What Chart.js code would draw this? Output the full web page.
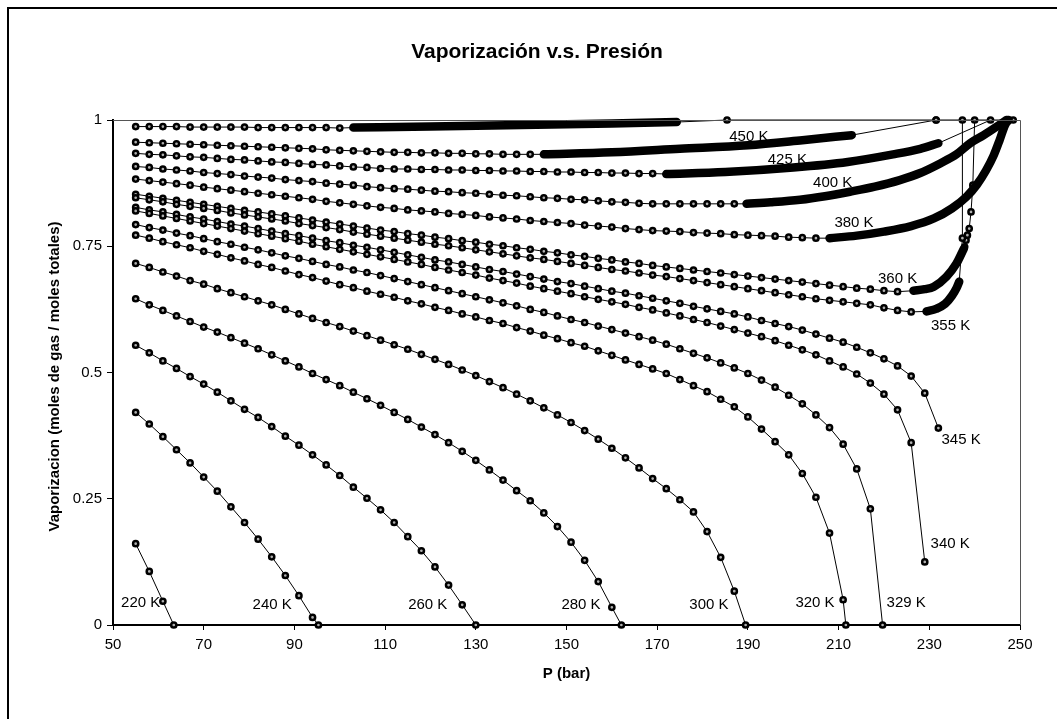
<!DOCTYPE html>
<html>
<head>
<meta charset="utf-8">
<script src="https://cdn.jsdelivr.net/npm/chart.js@4.4.1/dist/chart.umd.min.js"></script>
<style>
html,body{margin:0;padding:0;background:#fff}
#wrap{width:1057px;height:719px}
</style>
</head>
<body>
<div id="wrap"><canvas id="chart" width="1057" height="719"></canvas></div>
<script>
// presion de cada punto calculado (bar)
const presion = [55,58,61,64,67,70,73,76,79,82,85,88,91,94,97,100,103,106,109,112,115,118,121,124,127,130,133,136,139,142,145,148,151,154,157,160,163,166,169,172,175,178,181,184,187,190,193,196,199,202,205,208,211,214,217,220,223,226,229,232];

// fraccion vaporizada por isoterma, un valor por presion
const v220 = [0.161,0.106,0.047];
const v240 = [0.421,0.398,0.373,0.347,0.321,0.293,0.265,0.234,0.203,0.170,0.135,0.098,0.058,0.015];
const v260 = [0.554,0.539,0.523,0.508,0.492,0.477,0.461,0.444,0.427,0.411,0.393,0.374,0.356,0.337,0.317,0.296,0.273,0.251,0.228,0.203,0.175,0.147,0.115,0.079,0.040];
const v280 = [0.646,0.634,0.623,0.612,0.601,0.590,0.580,0.569,0.558,0.547,0.535,0.523,0.511,0.498,0.486,0.474,0.461,0.448,0.435,
  0.421,0.407,0.392,0.377,0.361,0.344,0.326,0.307,0.287,0.266,0.246,0.222,0.195,0.164,0.128,0.086,0.035];
const v300 = [0.716,0.708,0.699,0.691,0.682,0.675,0.666,0.658,0.650,0.642,0.634,0.625,0.616,0.607,0.599,0.591,0.582,0.573,0.564,
  0.555,0.546,0.536,0.526,0.516,0.505,0.494,0.482,0.470,0.457,0.444,0.430,0.416,0.401,0.385,0.368,0.350,0.331,0.311,0.290,0.270,0.248,0.224,0.185,0.134,0.067];
const v320 = [0.772,0.766,0.759,0.753,0.747,0.740,0.734,0.727,0.721,0.714,0.708,0.701,0.694,0.688,0.681,0.674,0.668,0.661,0.655,
  0.649,0.642,0.636,0.629,0.623,0.616,0.610,0.603,0.597,0.589,0.582,0.574,0.567,0.559,0.552,0.543,0.534,0.525,0.516,0.507,0.498,0.486,0.474,0.462,0.447,0.432,0.412,
  0.388,0.363,0.337,0.300,0.253,0.182,0.050];
const v329 = [0.793,0.787,0.782,0.776,0.771,0.765,0.759,0.754,0.748,0.743,0.737,0.731,0.726,0.720,0.714,0.709,0.703,0.698,0.692,
  0.686,0.680,0.674,0.668,0.662,0.656,0.650,0.644,0.638,0.632,0.625,0.619,0.612,0.605,0.599,0.592,0.585,0.578,0.571,0.564,
  0.556,0.547,0.538,0.529,0.519,0.509,0.498,0.485,0.471,0.455,0.438,0.416,0.391,0.358,0.309,0.230];
const v340 = [0.820,0.815,0.810,0.805,0.800,0.795,0.790,0.785,0.780,0.775,0.770,0.765,0.760,0.754,0.749,0.744,0.739,0.734,0.729,
  0.724,0.719,0.714,0.708,0.703,0.698,0.693,0.687,0.682,0.677,0.671,0.666,0.661,0.656,0.650,0.645,0.640,0.635,0.629,0.624,
  0.618,0.612,0.605,0.599,0.592,0.585,0.578,0.571,0.563,0.554,0.545,0.535,0.523,0.511,0.497,0.479,0.457,0.426,0.361,0.125];
const v345 = [0.827,0.822,0.818,0.813,0.808,0.804,0.799,0.794,0.790,0.785,0.780,0.775,0.771,0.766,0.761,0.757,0.752,0.748,0.743,
  0.738,0.733,0.728,0.723,0.719,0.714,0.709,0.704,0.700,0.695,0.690,0.685,0.680,0.676,0.671,0.666,0.661,0.657,0.652,0.647,
  0.642,0.637,0.631,0.626,0.621,0.616,0.610,0.603,0.597,0.591,0.584,0.576,0.568,0.560,0.550,0.539,0.527,0.513,0.493,0.459,0.390];
const v355 = [0.846,0.842,0.838,0.833,0.829,0.825,0.821,0.816,0.812,0.808,0.804,0.800,0.795,0.791,0.787,0.783,0.778,0.774,0.770,
  0.766,0.762,0.758,0.754,0.751,0.747,0.743,0.739,0.735,0.731,0.727,0.724,0.720,0.716,0.712,0.708,0.704,0.701,0.697,0.693,
  0.690,0.686,0.682,0.678,0.674,0.670,0.666,0.662,0.658,0.654,0.650,0.646,0.643,0.640,0.637,0.634,0.628,0.623,0.620];
const v360 = [0.853,0.849,0.845,0.841,0.837,0.833,0.829,0.825,0.821,0.818,0.814,0.810,0.806,0.802,0.798,0.794,0.790,0.786,0.782,
  0.779,0.775,0.772,0.768,0.765,0.761,0.758,0.754,0.751,0.747,0.744,0.740,0.737,0.733,0.730,0.726,0.723,0.719,0.716,0.712,
  0.709,0.706,0.703,0.700,0.697,0.694,0.691,0.688,0.685,0.682,0.679,0.676,0.673,0.670,0.667,0.665,0.662,0.660];
const v380 = [0.883,0.880,0.877,0.874,0.871,0.867,0.864,0.861,0.858,0.855,0.852,0.849,0.846,0.843,0.839,0.836,0.833,0.830,0.827,
  0.825,0.822,0.820,0.818,0.815,0.813,0.811,0.808,0.806,0.804,0.801,0.799,0.797,0.795,0.792,0.790,0.788,0.785,0.783,0.781,
  0.780,0.779,0.777,0.776,0.775,0.773,0.772,0.771,0.770,0.768,0.767,0.766];
const v400 = [0.908,0.906,0.903,0.901,0.899,0.896,0.894,0.892,0.889,0.887,0.885,0.882,0.880,0.878,0.875,0.873,0.871,0.868,0.866,
  0.864,0.863,0.861,0.859,0.858,0.856,0.855,0.853,0.851,0.850,0.848,0.846,0.845,0.843,0.842,0.840,0.838,0.837,0.835,0.834,
  0.834,0.834,0.834,0.834,0.834,0.834];
const v425 = [0.934,0.932,0.931,0.929,0.927,0.926,0.924,0.922,0.921,0.919,0.917,0.916,0.914,0.912,0.911,0.909,0.907,0.906,0.904,
  0.903,0.903,0.902,0.902,0.901,0.901,0.900,0.900,0.899,0.899,0.898,0.898,0.897,0.897,0.896,0.896,0.895,0.895,0.894,0.894];
const v450 = [0.956,0.955,0.954,0.953,0.952,0.951,0.950,0.949,0.948,0.947,0.946,0.945,0.944,0.943,0.941,0.940,0.939,0.938,0.937,
  0.936,0.936,0.935,0.935,0.934,0.934,0.933,0.933,0.932,0.932,0.932];
const vSup = [0.987,0.987,0.987,0.987,0.986,0.986,0.986,0.986,0.986,0.985,0.985,0.985,0.985,0.985,0.985,0.984];

// tramos de puntos muy juntos [P, V]
const denso355 = [[229.4,0.621],[231.5,0.626],[233.5,0.636],[235,0.652],[236,0.667],[236.6,0.680]];
const denso360 = [[226.5,0.662],[229,0.665],[231,0.670],[233.8,0.690],[236,0.716],[237.6,0.745]];
const denso380 = [[208,0.766],[214,0.771],[220,0.779],[226,0.790],[231,0.805],[235,0.825],[238.2,0.848],[240.5,0.872],[242.5,0.900],[244.2,0.930],[245.5,0.960],[246.7,0.990],[247.5,1.0]];
const denso400 = [[189.7,0.834],[195,0.837],[201.5,0.842],[207,0.849],[212.5,0.858],[218,0.868],[223.5,0.881],[228,0.895],[232.4,0.914],[236,0.932],[239,0.954],[242,0.970],[244.9,0.987],[247,1.0]];
const denso425 = [[172,0.893],[185,0.897],[200,0.906],[212,0.917],[222,0.932],[228,0.943],[232,0.954]];
const denso450 = [[145,0.932],[160,0.936],[175,0.943],[190,0.950],[202,0.960],[212.9,0.970]];
const densoSup = [[103,0.985],[120,0.987],[140,0.990],[160,0.993],[174.3,0.996]];

// ultimos puntos de cada isoterma [P, V]
const cola220 = [[63.4,0]];
const cola240 = [[95.3,0]];
const cola260 = [[130,0]];
const cola280 = [[162.1,0]];
const cola300 = [[189.5,0]];
const cola320 = [[211.6,0]];
const cola329 = [[219.7,0]];
const cola355 = [[237.3,0.766],[237.3,1]];
const cola360 = [[237.8,0.749],[238.1,0.762],[238.4,0.772],[238.8,0.785],[239.2,0.818],[239.6,0.871],[240,1]];
const cola425 = [[243.5,1]];
const cola450 = [[231.5,1]];
const colaSup = [[185.4,1],[231.5,1],[248.5,1]];

// rotulos de las isotermas [texto, P, V]
const rotulos = [
  ['220 K',56.1,0.044],['240 K',85.1,0.040],['260 K',119.4,0.040],['280 K',153.2,0.040],
  ['300 K',181.4,0.040],['320 K',204.8,0.044],['329 K',224.9,0.044],['340 K',234.6,0.160],
  ['345 K',237.0,0.366],['355 K',234.7,0.592],['360 K',223.0,0.685],['380 K',213.4,0.797],
  ['400 K',208.7,0.876],['425 K',198.7,0.921],['450 K',190.2,0.967]
];

const isotermas = [
  {v:v220, cola:cola220}, {v:v240, cola:cola240}, {v:v260, cola:cola260},
  {v:v280, cola:cola280}, {v:v300, cola:cola300}, {v:v320, cola:cola320},
  {v:v329, cola:cola329}, {v:v340}, {v:v345},
  {v:v355, denso:denso355, cola:cola355}, {v:v360, denso:denso360, cola:cola360},
  {v:v380, denso:denso380}, {v:v400, denso:denso400},
  {v:v425, denso:denso425, cola:cola425}, {v:v450, denso:denso450, cola:cola450},
  {v:vSup, denso:densoSup, cola:colaSup}
];

const FUENTE = '"Liberation Sans", Arial, sans-serif';

const datasets = [];
isotermas.forEach(s => {
  let pts = s.v.map((y, i) => ({x: presion[i], y: y}));
  let dens = (s.denso || []).map(p => ({x: p[0], y: p[1], oculto: true}));
  let fin = (s.cola || []).map(p => ({x: p[0], y: p[1]}));
  datasets.push({
    data: pts.concat(dens, fin),
    showLine: true,
    borderColor: '#000',
    borderWidth: 1,
    pointRadius: c => (c.raw && c.raw.oculto) ? 0 : 2.6,
    pointBorderWidth: 2.5,
    pointBorderColor: '#000',
    pointBackgroundColor: '#b0b0b0',
    pointStyle: 'circle',
    clip: false,
    order: 1
  });
  if (s.denso) {
    datasets.push({
      data: s.denso.map(p => ({x: p[0], y: p[1]})),
      showLine: true,
      borderColor: '#000',
      borderWidth: 8.5,
      borderCapStyle: 'round',
      borderJoinStyle: 'round',
      cubicInterpolationMode: 'monotone',
      pointRadius: 0,
      clip: false,
      order: 0
    });
  }
});

// textos, marco y borde del area de trazado
const textos = {
  id: 'textos',
  beforeDraw(chart) {
    const c = chart.ctx;
    c.save();
    c.fillStyle = '#fff';
    c.fillRect(0, 0, chart.width, chart.height);
    c.restore();
  },
  afterDraw(chart) {
    const c = chart.ctx, a = chart.chartArea;
    const sx = chart.scales.x, sy = chart.scales.y;
    c.save();
    // borde fino del area de trazado
    c.strokeStyle = '#555';
    c.lineWidth = 1;
    c.beginPath();
    c.moveTo(a.left, a.top + 0.5);
    c.lineTo(a.right + 0.5, a.top + 0.5);
    c.lineTo(a.right + 0.5, a.bottom);
    c.stroke();
    // marco exterior
    c.strokeStyle = '#000';
    c.lineWidth = 2;
    c.beginPath();
    c.moveTo(8, chart.height);
    c.lineTo(8, 8);
    c.lineTo(chart.width, 8);
    c.stroke();

    c.fillStyle = '#000';
    c.textAlign = 'center';
    c.textBaseline = 'middle';
    c.font = 'bold 21px ' + FUENTE;
    c.fillText('Vaporización v.s. Presión', 537, 52);
    c.font = 'bold 15px ' + FUENTE;
    c.fillText('P (bar)', (a.left + a.right) / 2, 674);
    c.save();
    c.translate(55, (a.top + a.bottom) / 2 + 4);
    c.rotate(-Math.PI / 2);
    c.fillText('Vaporizacion (moles de gas / moles totales)', 0, 0);
    c.restore();

    c.font = '15px ' + FUENTE;
    rotulos.forEach(r => {
      c.fillText(r[0], sx.getPixelForValue(r[1]), sy.getPixelForValue(r[2]));
    });
    c.restore();
  }
};

new Chart(document.getElementById('chart'), {
  type: 'scatter',
  data: {datasets: datasets},
  options: {
    responsive: false,
    animation: false,
    devicePixelRatio: 1,
    layout: {padding: {top: 120, right: 37, left: 0, bottom: 0}},
    plugins: {legend: {display: false}, tooltip: {enabled: false}, title: {display: false}},
    scales: {
      x: {
        type: 'linear', min: 50, max: 250,
        afterFit: s => { s.height = 94; },
        ticks: {stepSize: 20, color: '#000', padding: 6, font: {family: FUENTE, size: 15}},
        grid: {drawOnChartArea: false, drawTicks: true, tickLength: 5, color: '#000'},
        border: {display: true, color: '#000', width: 2}
      },
      y: {
        type: 'linear', min: 0, max: 1,
        afterFit: s => { s.width = 113; },
        ticks: {stepSize: 0.25, color: '#000', padding: 5, font: {family: FUENTE, size: 15},
          callback: v => String(v)},
        grid: {drawOnChartArea: false, drawTicks: true, tickLength: 6, color: '#000'},
        border: {display: true, color: '#000', width: 2}
      }
    }
  },
  plugins: [textos]
});
</script>
</body>
</html>
